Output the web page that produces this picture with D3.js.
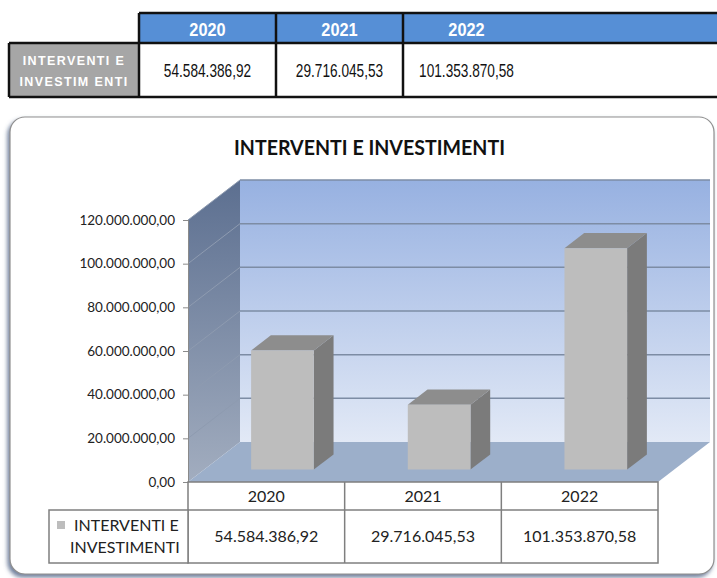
<!DOCTYPE html>
<html>
<head>
<meta charset="utf-8">
<script src="https://cdn.jsdelivr.net/npm/d3@7"></script>
<style>
  body { margin: 0; background: #fff; }
  svg { display: block; }
</style>
</head>
<body>
<script>
// ====== DATA ======
const categories = ['2020', '2021', '2022'];
const values = [54584386.92, 29716045.53, 101353870.58];
const yTicks = [0, 20000000, 40000000, 60000000, 80000000, 100000000, 120000000];
const chartTitle = 'INTERVENTI E INVESTIMENTI';
const headerLabelLines = ['INTERVENTI E', 'INVESTIM ENTI'];
const legendLines = ['INTERVENTI E', 'INVESTIMENTI'];

const itLocale = d3.formatLocale({ decimal: ',', thousands: '.', grouping: [3], currency: ['', ' €'] });
const fmt = itLocale.format(',.2f');

const svg = d3.select('body').append('svg').attr('width', 717).attr('height', 578);
const defs = svg.append('defs');

function gradient(id, stops) {
    const g = defs.append('linearGradient').attr('id', id)
        .attr('x1', 0).attr('y1', 0).attr('x2', 0).attr('y2', 1);
    stops.forEach(s => g.append('stop').attr('offset', s[0]).attr('stop-color', s[1]));
}
gradient('backWall', [[0, '#97b1e1'], [1, '#e2e9f6']]);
gradient('sideWall', [[0, '#5c6f90'], [1, '#a2adbf']]);

const shadow = defs.append('filter').attr('id', 'shadow').attr('x', -0.05).attr('y', -0.05).attr('width', 1.1).attr('height', 1.1);
shadow.append('feDropShadow').attr('dx', -2).attr('dy', 3).attr('stdDeviation', 2)
    .attr('flood-color', '#4d6184').attr('flood-opacity', 0.8);

// ====== TOP TABLE ======
const topCols = [139, 276, 403, 530];
const topTbl = { y0: 13, y1: 43, y2: 97, left: 9, right: 720 };

svg.append('rect').attr('x', topCols[0]).attr('y', topTbl.y0)
    .attr('width', topTbl.right - topCols[0]).attr('height', topTbl.y1 - topTbl.y0).attr('fill', '#568fd6');
svg.append('rect').attr('x', topTbl.left).attr('y', topTbl.y1)
    .attr('width', topCols[0] - topTbl.left).attr('height', topTbl.y2 - topTbl.y1).attr('fill', '#a6a6a6');

const tableLines = [
    [topCols[0], topTbl.y0, topTbl.right, topTbl.y0],
    [topTbl.left, topTbl.y1, topTbl.right, topTbl.y1],
    [topTbl.left, topTbl.y2, topTbl.right, topTbl.y2],
    [topTbl.left, topTbl.y1, topTbl.left, topTbl.y2],
    [topCols[0], topTbl.y0, topCols[0], topTbl.y2],
    [topCols[1], topTbl.y0, topCols[1], topTbl.y2],
    [topCols[2], topTbl.y0, topCols[2], topTbl.y2]
];
svg.append('g').selectAll('line').data(tableLines).join('line')
    .attr('x1', d => d[0]).attr('y1', d => d[1]).attr('x2', d => d[2]).attr('y2', d => d[3])
    .attr('stroke', '#111').attr('stroke-width', 2.5);

categories.forEach((c, i) => {
    const cx = (topCols[i] + topCols[i + 1]) / 2;
    svg.append('text')
        .attr('transform', `translate(${cx},36) scale(0.86,1)`)
        .attr('text-anchor', 'middle')
        .attr('font-family', 'Liberation Sans, Arial, sans-serif')
        .attr('font-weight', 'bold').attr('font-size', 19).attr('fill', '#fff')
        .text(c);
    svg.append('text')
        .attr('transform', `translate(${cx},77) scale(0.78,1)`)
        .attr('text-anchor', 'middle')
        .attr('font-family', 'Liberation Sans, Arial, sans-serif')
        .attr('font-size', 17.5).attr('fill', '#111')
        .text(fmt(values[i]));
});

headerLabelLines.forEach((t, i) => {
    svg.append('text')
        .attr('x', (topTbl.left + topCols[0]) / 2).attr('y', 65 + i * 21)
        .attr('text-anchor', 'middle')
        .attr('font-family', 'Liberation Sans, Arial, sans-serif')
        .attr('font-weight', 'bold').attr('font-size', 12.5).attr('letter-spacing', 1.4)
        .attr('fill', '#fff')
        .text(t);
});

// ====== CHART PANEL ======
svg.append('rect')
    .attr('x', 10).attr('y', 117).attr('width', 704).attr('height', 457).attr('rx', 15)
    .attr('fill', '#fff').attr('stroke', '#8f8f8f').attr('stroke-width', 1.2)
    .attr('filter', 'url(#shadow)');

svg.append('text')
    .attr('x', 369.5).attr('y', 154.5)
    .attr('text-anchor', 'middle')
    .attr('font-family', 'Lato, sans-serif').attr('font-weight', 'bold')
    .attr('font-size', 20).attr('fill', '#111')
    .attr('textLength', 271).attr('lengthAdjust', 'spacingAndGlyphs')
    .text(chartTitle);

// 3D plot geometry
const DX = 52, DY = -40;
const x = d3.scaleBand().domain(categories).range([188, 658]);
const y = d3.scaleLinear().domain([0, 120000000]).range([482, 220]);
const proj = (px, py, z) => [px + z * DX, py + z * DY];
const poly = pts => 'M' + pts.map(p => p.join(',')).join('L') + 'Z';

const x0 = x.range()[0], x1 = x.range()[1];
const yMin = y(0), yMax = y(120000000);

const plot = svg.append('g');

// back wall
plot.append('path')
    .attr('d', poly([proj(x0, yMax, 1), proj(x1, yMax, 1), proj(x1, yMin, 1), proj(x0, yMin, 1)]))
    .attr('fill', 'url(#backWall)');
// side wall
plot.append('path')
    .attr('d', poly([proj(x0, yMax, 0), proj(x0, yMax, 1), proj(x0, yMin, 1), proj(x0, yMin, 0)]))
    .attr('fill', 'url(#sideWall)');
// floor
plot.append('path')
    .attr('d', poly([proj(x0, yMin, 0), proj(x0, yMin, 1), proj(x1, yMin, 1), proj(x1, yMin, 0)]))
    .attr('fill', '#9cafca');

// gridlines on back wall and side wall
plot.append('g').selectAll('line.back').data(yTicks.slice(1)).join('line')
    .attr('class', 'back')
    .attr('x1', d => proj(x0, y(d), 1)[0]).attr('y1', d => proj(x0, y(d), 1)[1])
    .attr('x2', d => proj(x1, y(d), 1)[0]).attr('y2', d => proj(x1, y(d), 1)[1])
    .attr('stroke', '#7d8ca4').attr('stroke-width', 1.5);
plot.append('g').selectAll('line.side').data(yTicks.slice(1)).join('line')
    .attr('class', 'side')
    .attr('x1', d => proj(x0, y(d), 0)[0]).attr('y1', d => proj(x0, y(d), 0)[1])
    .attr('x2', d => proj(x0, y(d), 1)[0]).attr('y2', d => proj(x0, y(d), 1)[1])
    .attr('stroke', '#8e9bb0').attr('stroke-width', 1);

// value axis
const axis = svg.append('g').attr('transform', `translate(${x0},0)`)
    .call(d3.axisLeft(y).tickValues(yTicks).tickFormat(fmt).tickSize(5).tickPadding(8));
axis.select('.domain').attr('stroke', '#8a8a8a');
axis.selectAll('.tick line').attr('stroke', '#8a8a8a');
axis.selectAll('.tick text')
    .attr('font-family', 'Lato, sans-serif').attr('font-size', 13.5).attr('fill', '#222');

// bars
const bw = x.bandwidth() * 0.4;
const z0 = 0.31, z1 = 0.69;
const bars = plot.append('g').selectAll('g.bar')
    .data(categories.map((c, i) => ({ c, v: values[i] })))
    .join('g').attr('class', 'bar');

bars.each(function (d) {
    const g = d3.select(this);
    const l = x(d.c) + (x.bandwidth() - bw) / 2, r = l + bw;
    const t = y(d.v), b = y(0);
    g.append('path').attr('d', poly([proj(r, t, z0), proj(r, t, z1), proj(r, b, z1), proj(r, b, z0)]))
        .attr('fill', '#7b7b7b');
    g.append('path').attr('d', poly([proj(l, t, z0), proj(l, t, z1), proj(r, t, z1), proj(r, t, z0)]))
        .attr('fill', '#8d8d8d');
    g.append('path').attr('d', poly([proj(l, t, z0), proj(r, t, z0), proj(r, b, z0), proj(l, b, z0)]))
        .attr('fill', '#bdbdbd');
});

// ====== DATA TABLE UNDER CHART ======
const dt = { r0: 482, r1: 510, r2: 563, legendX: 49 };
const tbl = svg.append('g').attr('fill', 'none').attr('stroke', '#7f7f7f').attr('stroke-width', 1.5);
tbl.append('rect').attr('x', x0).attr('y', dt.r0).attr('width', x1 - x0).attr('height', dt.r2 - dt.r0).attr('fill', '#fff');
tbl.append('rect').attr('x', dt.legendX).attr('y', dt.r1).attr('width', x0 - dt.legendX).attr('height', dt.r2 - dt.r1).attr('fill', '#fff');
tbl.append('line').attr('x1', x0).attr('x2', x1).attr('y1', dt.r1).attr('y2', dt.r1);
tbl.selectAll('line.col').data(categories.slice(1)).join('line').attr('class', 'col')
    .attr('x1', d => x(d)).attr('x2', d => x(d)).attr('y1', dt.r0).attr('y2', dt.r2);

const cellText = svg.append('g').attr('font-family', 'Lato, sans-serif').attr('font-size', 16).attr('fill', '#222');
cellText.selectAll('text.cat').data(categories).join('text').attr('class', 'cat')
    .attr('x', d => x(d) + x.bandwidth() / 2).attr('y', 502).attr('text-anchor', 'middle')
    .text(d => d);
cellText.selectAll('text.val').data(values).join('text').attr('class', 'val')
    .attr('x', (d, i) => x(categories[i]) + x.bandwidth() / 2).attr('y', 542).attr('text-anchor', 'middle')
    .text(d => fmt(d));

svg.append('rect').attr('x', 57).attr('y', 521).attr('width', 8).attr('height', 8).attr('fill', '#bdbdbd');
legendLines.forEach((t, i) => {
    cellText.append('text')
        .attr('x', i === 0 ? 74 : 70).attr('y', 531 + i * 22)
        .text(t);
});
</script>
</body>
</html>
